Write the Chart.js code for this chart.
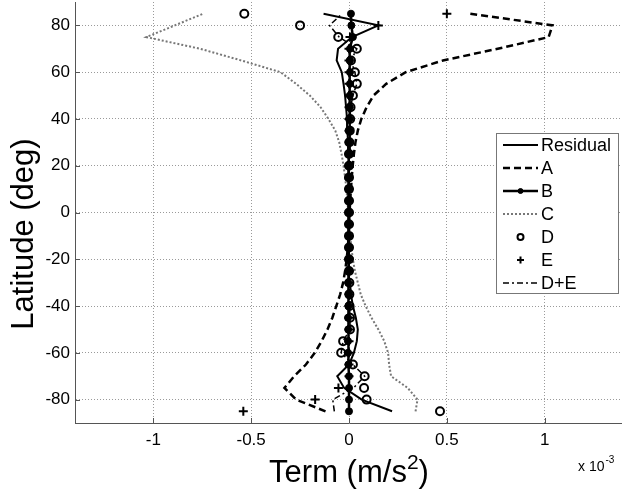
<!DOCTYPE html>
<html><head><meta charset="utf-8">
<script src="https://cdn.jsdelivr.net/npm/chart.js@4.4.0/dist/chart.umd.min.js"></script>
<style>
html,body{margin:0;padding:0;background:#fff;overflow:hidden;}
#wrap{width:624px;height:498px;}
</style></head><body>
<div id="wrap"><canvas id="c" width="624" height="498"></canvas></div>
<script>
// ---- data (x values in units of 1e-3 m/s^2) ----
const latitudes = [-85,-80,-75,-70,-65,-60,-55,-50,-45,-40,-35,-30,-25,-20,-15,-10,-5,0,5,10,15,20,25,30,35,40,45,50,55,60,65,70,75,80,85];
const residual = [0.22,0.065,-0.025,-0.06,0.0,0.025,0.04,0.045,0.035,0.02,0.01,0.005,0.002,0,0,0,0,0,0,0,0,0,-0.002,-0.005,-0.008,-0.01,-0.015,-0.02,-0.028,-0.037,-0.063,-0.056,0.015,0.15,-0.13];
const termA = [-0.12,-0.27,-0.33,-0.28,-0.22,-0.175,-0.14,-0.11,-0.085,-0.065,-0.045,-0.03,-0.02,-0.012,-0.006,-0.002,0,0.003,0.006,0.01,0.014,0.019,0.025,0.033,0.045,0.063,0.09,0.125,0.19,0.29,0.48,0.76,1.02,1.04,0.62];
const termB = [0,0,0,0,-0.003,-0.005,-0.005,-0.004,-0.005,-0.003,-0.002,-0.004,-0.002,-0.003,-0.002,-0.002,-0.002,-0.002,-0.002,-0.002,-0.002,-0.001,0,0,0.002,0.002,0.003,0.004,0.005,0.005,0.005,0.005,0.02,0.012,0.01];
const termC = [0.34,0.35,0.3,0.215,0.205,0.2,0.18,0.15,0.115,0.085,0.06,0.045,0.03,0.02,0.012,0.006,0,-0.004,-0.008,-0.013,-0.02,-0.028,-0.038,-0.05,-0.07,-0.105,-0.145,-0.2,-0.27,-0.35,-0.55,-0.76,-1.035,-0.89,-0.745];
const termD = [0.465,0.09,0.077,0.08,0.02,-0.04,-0.03,0.005,0.005,0.003,0.002,0.002,0,0,0,0,0,0,0,0,0,0,0,0.002,0.004,0.006,0.008,0.02,0.04,0.03,0.01,0.04,-0.055,-0.25,-0.535];
const termE = [-0.54,-0.173,-0.054,0.0,0.0,0.0,0.0,0,0,0,0,0,0,0,0,0,0,0,0,0,0,0,0,0,0,0,0,0,0,0,0,0,0.005,0.15,0.5];
const termDE = [-0.075,-0.083,0.023,0.08,0.02,-0.04,-0.03,0.005,0.005,0.003,0.002,0.002,0,0,0,0,0,0,0,0,0,0,0,0.002,0.004,0.006,0.008,0.02,0.04,0.03,0.01,0.04,-0.05,-0.1,-0.035];
const seriesNames = ['Residual','A','B','C','D','E','D+E'];
const xTickValues = [-1,-0.5,0,0.5,1];
const xTickLabels = ['-1','-0.5','0','0.5','1'];
const yTickValues = [-80,-60,-40,-20,0,20,40,60,80];
const yTickLabels = ['-80','-60','-40','-20','0','20','40','60','80'];

const FONT = '"Liberation Sans", Arial, Helvetica, sans-serif';
function pts(vals){ return vals.map((v,i)=>({x:v, y:latitudes[i]})); }

// keep the plot area fixed regardless of marker sizes at the ends of the series
try { Chart.registry.getController('scatter').prototype.getMaxOverflow = function(){ return 0; }; } catch(e) {}

const datasets = [
  {label:seriesNames[0], data:pts(residual), showLine:true, borderColor:'#000', borderWidth:2, pointRadius:0, order:1},
  {label:seriesNames[1], data:pts(termA), showLine:true, borderColor:'#000', borderWidth:2.5, borderDash:[7,4], pointRadius:0, order:2},
  {label:seriesNames[2], data:pts(termB), showLine:true, borderColor:'#000', borderWidth:2.5, pointStyle:'circle', pointRadius:3.5, pointBackgroundColor:'#000', pointBorderColor:'#000', pointBorderWidth:1, order:0},
  {label:seriesNames[3], data:pts(termC), showLine:true, borderColor:'#777', borderWidth:2, borderDash:[2,2], pointRadius:0, order:3},
  {label:seriesNames[4], data:pts(termD), showLine:false, pointStyle:'circle', pointRadius:4, pointBorderWidth:2, pointBorderColor:'#000', pointBackgroundColor:'rgba(0,0,0,0)', order:0},
  {label:seriesNames[5], data:pts(termE), showLine:false, pointStyle:'cross', pointRadius:4.5, pointBorderWidth:2, pointBorderColor:'#000', order:0},
  {label:seriesNames[6], data:pts(termDE), showLine:true, borderColor:'#000', borderWidth:1.5, borderDash:[6,3,2,3], pointRadius:0, order:1}
];

const decor = {
  id:'decor',
  afterDraw(chart){
    const ctx = chart.ctx, ca = chart.chartArea;
    const xs = chart.scales.x, ys = chart.scales.y;
    ctx.save();
    // inward ticks
    ctx.strokeStyle = '#555'; ctx.lineWidth = 1;
    ctx.beginPath();
    xTickValues.forEach(v=>{ const px = Math.round(xs.getPixelForValue(v))+0.5; ctx.moveTo(px, ca.bottom); ctx.lineTo(px, ca.bottom-5); });
    yTickValues.forEach(v=>{ const py = Math.round(ys.getPixelForValue(v))+0.5; ctx.moveTo(ca.left, py); ctx.lineTo(ca.left+5, py); });
    ctx.stroke();
    // y title
    ctx.fillStyle = '#000';
    ctx.save();
    ctx.translate(24, 234);
    ctx.rotate(-Math.PI/2);
    ctx.font = '31px ' + FONT;
    ctx.textAlign = 'center'; ctx.textBaseline = 'middle';
    ctx.fillText('Latitude (deg)', 0, 0);
    ctx.restore();
    // x title with superscript
    const p1 = 'Term (m/s', p2 = '2', p3 = ')';
    ctx.font = '31px ' + FONT; const w1 = ctx.measureText(p1).width, w3 = ctx.measureText(p3).width;
    ctx.font = '21px ' + FONT; const w2 = ctx.measureText(p2).width;
    const total = w1+w2+w3; let x0 = 349 - total/2; const base = 482;
    ctx.textAlign = 'left'; ctx.textBaseline = 'alphabetic';
    ctx.font = '31px ' + FONT; ctx.fillText(p1, x0, base);
    ctx.font = '21px ' + FONT; ctx.fillText(p2, x0+w1, base-13);
    ctx.font = '31px ' + FONT; ctx.fillText(p3, x0+w1+w2, base);
    // exponent label
    ctx.font = '14px ' + FONT; ctx.fillText('x 10', 578, 471);
    const we = ctx.measureText('x 10').width;
    ctx.font = '10px ' + FONT; ctx.fillText('-3', 578+we+1, 463);
    // legend
    const L = 496.5, T = 133.5, R = 618.5, B = 293.5;
    ctx.fillStyle = '#fff'; ctx.fillRect(L, T, R-L, B-T);
    ctx.strokeStyle = '#777'; ctx.lineWidth = 1; ctx.setLineDash([]);
    ctx.strokeRect(L, T, R-L, B-T);
    const x1 = 503, x2 = 538, xm = 520.5;
    chart.data.datasets.forEach((ds,i)=>{
      const y = 145 + i*23;
      ctx.save();
      if (ds.showLine){
        ctx.strokeStyle = ds.borderColor; ctx.lineWidth = ds.borderWidth;
        ctx.setLineDash(ds.borderDash || []);
        ctx.beginPath(); ctx.moveTo(x1, y); ctx.lineTo(x2, y); ctx.stroke();
      }
      ctx.setLineDash([]);
      if (ds.pointRadius > 0){
        const r = Math.max(ds.pointRadius - 1, 2.5);
        ctx.fillStyle = ds.pointBackgroundColor || 'rgba(0,0,0,0)';
        ctx.strokeStyle = ds.pointBorderColor || '#000';
        ctx.lineWidth = ds.pointBorderWidth;
        ctx.beginPath();
        if (ds.pointStyle === 'cross'){
          ctx.moveTo(xm-r, y); ctx.lineTo(xm+r, y);
          ctx.moveTo(xm, y-r); ctx.lineTo(xm, y+r);
          ctx.stroke();
        } else {
          ctx.arc(xm, y, r, 0, Math.PI*2);
          ctx.fill(); ctx.stroke();
        }
      }
      ctx.restore();
      ctx.fillStyle = '#000'; ctx.font = '18px ' + FONT;
      ctx.textAlign = 'left'; ctx.textBaseline = 'middle';
      ctx.fillText(ds.label, 541, y+1);
    });
    ctx.restore();
  }
};

function zeroPad(s){ s.paddingTop = 0; s.paddingBottom = 0; s.paddingLeft = 0; s.paddingRight = 0; }

new Chart(document.getElementById('c'), {
  type:'scatter',
  data:{datasets},
  options:{
    responsive:false, animation:false, devicePixelRatio:1,
    layout:{padding:{top:2, right:1, left:0, bottom:0}},
    plugins:{legend:{display:false}, tooltip:{enabled:false}},
    elements:{line:{tension:0}},
    scales:{
      x:{
        type:'linear', min:-1.4, max:1.4,
        afterBuildTicks(s){ s.ticks = xTickValues.map(v=>({value:v})); },
        afterFit(s){ s.height = 75; zeroPad(s); },
        ticks:{ callback:(v)=>xTickLabels[xTickValues.indexOf(v)], font:{size:17, family:FONT}, color:'#000', padding:7, maxRotation:0 },
        grid:{ color:'#9a9a9a', lineWidth:1, drawTicks:false },
        border:{ display:true, color:'#555', width:1, dash:[1,2] }
      },
      y:{
        type:'linear', min:-90, max:90,
        afterBuildTicks(s){ s.ticks = yTickValues.map(v=>({value:v})); },
        afterFit(s){ s.width = 75; zeroPad(s); },
        ticks:{ callback:(v)=>yTickLabels[yTickValues.indexOf(v)], font:{size:17, family:FONT}, color:'#000', padding:5 },
        grid:{ color:'#9a9a9a', lineWidth:1, drawTicks:false },
        border:{ display:true, color:'#555', width:1, dash:[1,2] }
      }
    }
  },
  plugins:[decor]
});
</script>
</body></html>
